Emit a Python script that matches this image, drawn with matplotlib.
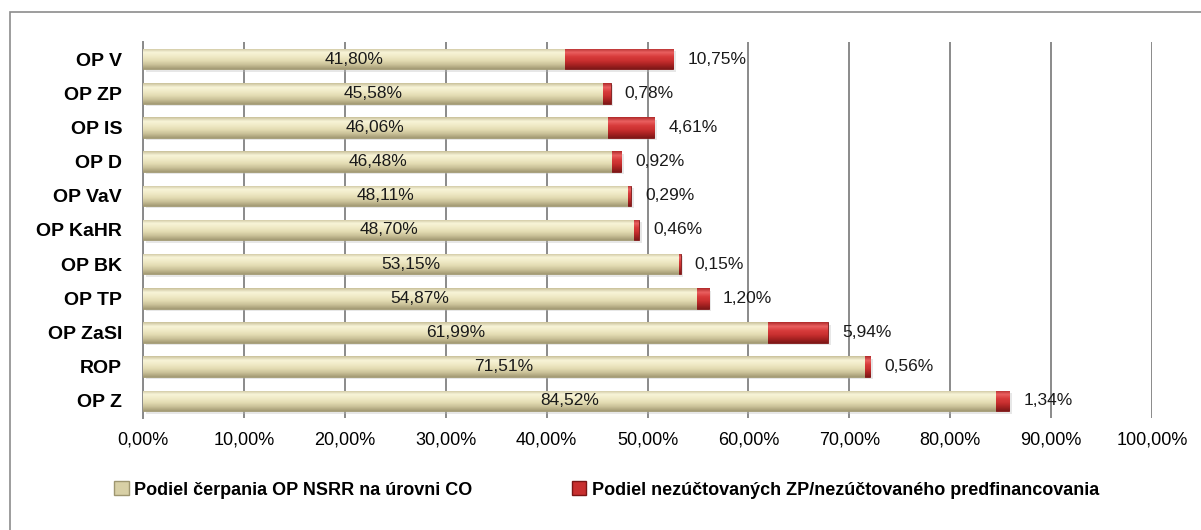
import matplotlib
matplotlib.use("Agg")
import matplotlib.pyplot as plt
import numpy as np
from matplotlib.colors import to_rgb
from matplotlib.patches import Rectangle, Patch

# Daten
kategorien = ["OP V", "OP ZP", "OP IS", "OP D", "OP VaV", "OP KaHR",
              "OP BK", "OP TP", "OP ZaSI", "ROP", "OP Z"]
cerpanie = [41.80, 45.58, 46.06, 46.48, 48.11, 48.70, 53.15, 54.87, 61.99, 71.51, 84.52]
nezuctovane = [10.75, 0.78, 4.61, 0.92, 0.29, 0.46, 0.15, 1.20, 5.94, 0.56, 1.34]
x_ticks = [0, 10, 20, 30, 40, 50, 60, 70, 80, 90, 100]
legenda = ["Podiel čerpania OP NSRR na úrovni CO",
           "Podiel nezúčtovaných ZP/nezúčtovaného predfinancovania"]

FONT = ["Liberation Sans", "DejaVu Sans"]
plt.rcParams["font.family"] = FONT

# Farbverläufe (oben -> unten) für den Bevel-Effekt
stops_beige = ["#C9C19A", "#F8F4D8", "#F0EAC6", "#E3DCB3", "#C9C097", "#A39A74"]
stops_rot = ["#B02A2A", "#EA6060", "#D83C3C", "#CA3030", "#A82222", "#7E1818"]


def gradient(stops, n=64):
    cols = np.array([to_rgb(c) for c in stops])
    pos = np.linspace(0, 1, len(stops))
    t = np.linspace(0, 1, n)
    arr = np.stack([np.interp(t, pos, cols[:, i]) for i in range(3)], axis=1)
    return arr[:, None, :]


def fmt(v):
    return f"{v:.2f}".replace(".", ",") + "%"


fig = plt.figure(figsize=(12.01, 5.30), dpi=100)
ax = fig.add_axes([0.1191, 0.2113, 0.8401, 0.7095])

# Rahmen um die ganze Grafik
fig.patches.append(Rectangle((10 / 1201, -0.01), 1.0, 1 - 12 / 530 + 0.01,
                             transform=fig.transFigure, fill=False,
                             edgecolor="#8C8C8C", linewidth=1.2, zorder=0))

y = np.arange(len(kategorien))
h = 0.6

# Schatten
ax.barh(y + 0.07, np.array(cerpanie) + np.array(nezuctovane), height=h,
        left=0.25, color="#BBBBBB", alpha=0.35, zorder=2, linewidth=0)

bars1 = ax.barh(y, cerpanie, height=h, color="#E2DBB2", edgecolor="#9E9670",
                linewidth=0.6, zorder=3)
bars2 = ax.barh(y, nezuctovane, height=h, left=cerpanie, color="#C82F2F",
                edgecolor="#7A1515", linewidth=0.6, zorder=3)

g1 = gradient(stops_beige)
g2 = gradient(stops_rot)
for bars, g in ((bars1, g1), (bars2, g2)):
    for p in bars:
        x0, y0, w, hh = p.get_x(), p.get_y(), p.get_width(), p.get_height()
        im = ax.imshow(g, extent=(x0, x0 + w, y0 + hh, y0), origin="upper",
                       aspect="auto", interpolation="bilinear", zorder=3.5)
        im.set_clip_path(p)

# Beschriftungen
for i in range(len(kategorien)):
    ax.text(cerpanie[i] / 2, y[i], fmt(cerpanie[i]), ha="center", va="center",
            fontsize=12.5, color="#1A1A1A", zorder=5)
    ax.annotate(fmt(nezuctovane[i]), xy=(cerpanie[i] + nezuctovane[i], y[i]),
                xytext=(10, 0), textcoords="offset points", ha="left",
                va="center", fontsize=12.5, color="#1A1A1A", zorder=5)

ax.set_xlim(0, 100)
ax.set_ylim(len(kategorien) - 0.5, -0.5)
ax.set_xticks(x_ticks)
ax.set_xticklabels([fmt(t) for t in x_ticks], fontsize=13)
ax.set_yticks(y)
ax.set_yticklabels(kategorien, fontsize=14, fontweight="bold")
ax.tick_params(axis="x", length=0, pad=10)
ax.tick_params(axis="y", length=0, pad=15)

ax.grid(axis="x", color="#8A8A8A", linewidth=1.4, zorder=1)
ax.set_axisbelow(True)
for s in ("top", "right", "bottom"):
    ax.spines[s].set_visible(False)
ax.spines["left"].set_color("#8A8A8A")
ax.spines["left"].set_linewidth(1.4)

handles = [Patch(facecolor="#D8D0A6", edgecolor="#9E9670"),
           Patch(facecolor="#C82F2F", edgecolor="#7A1515")]
fig.legend(handles, legenda, loc="center", bbox_to_anchor=(0.505, 0.0755),
           ncol=2, frameon=False, handlelength=0.8, handleheight=0.8,
           handletextpad=0.3, columnspacing=5.5,
           prop={"weight": "bold", "size": 13})

fig.savefig("out.png", dpi=100)
